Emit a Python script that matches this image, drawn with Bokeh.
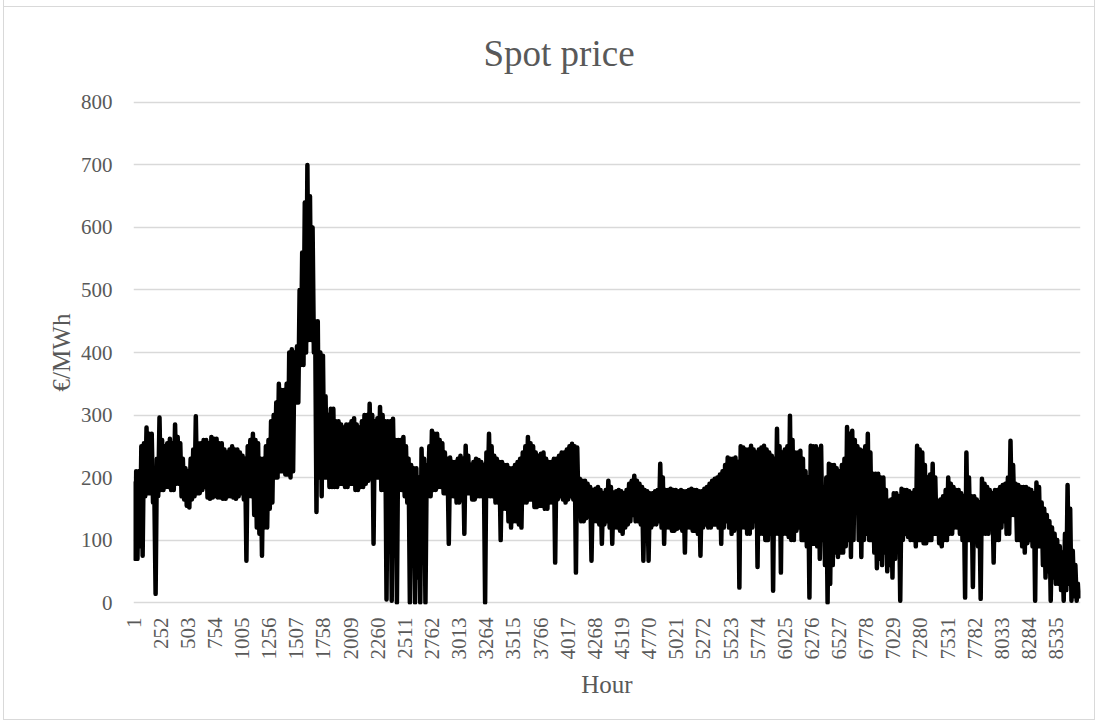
import math
from bokeh.plotting import figure
from bokeh.models import FixedTicker, Range1d, ColumnDataSource
from bokeh.embed import file_html
from bokeh.resources import INLINE

title_text = "Spot price"
x_title = "Hour"
y_title = "€/MWh"

tick_hours = [1, 252, 503, 754, 1005, 1256, 1507, 1758, 2009, 2260, 2511, 2762,
              3013, 3264, 3515, 3766, 4017, 4268, 4519, 4770, 5021, 5272, 5523,
              5774, 6025, 6276, 6527, 6778, 7029, 7280, 7531, 7782, 8033, 8284, 8535]
y_ticks = [0, 100, 200, 300, 400, 500, 600, 700, 800]

# per day (365 days): the day's high reading and the day's low reading,
# estimated from the chart (high near hour 1 of the day, low near hour 13)
daily_high = [
    190, 210, 210, 250, 255, 280, 270, 270, 180, 230,
    296, 260, 250, 255, 262, 255, 285, 265, 255, 230,
    215, 210, 230, 245, 298, 255, 255, 260, 260, 255,
    265, 262, 262, 255, 255, 245, 240, 245, 250, 245,
    245, 240, 235, 230, 250, 260, 270, 260, 255, 230,
    230, 250, 260, 290, 300, 320, 350, 340, 340, 350,
    400, 405, 400, 410, 500, 560, 640, 700, 650, 600,
    450, 450, 400, 395, 330, 300, 310, 310, 290, 290,
    285, 280, 285, 285, 290, 295, 285, 280, 290, 300,
    300, 318, 300, 290, 295, 313, 300, 290, 290, 290,
    294, 260, 260, 260, 265, 250, 230, 220, 215, 215,
    200, 246, 230, 220, 250, 275, 270, 270, 260, 255,
    240, 230, 232, 225, 225, 230, 235, 230, 251, 235,
    220, 225, 230, 228, 225, 220, 240, 270, 250, 235,
    230, 225, 225, 220, 220, 215, 215, 220, 225, 230,
    240, 250, 265, 255, 250, 240, 235, 238, 240, 230,
    225, 225, 230, 230, 235, 240, 240, 245, 250, 254,
    250, 248, 198, 195, 195, 190, 185, 180, 182, 185,
    180, 175, 180, 195, 185, 176, 178, 180, 178, 175,
    180, 190, 195, 203, 195, 190, 185, 180, 178, 175,
    175, 178, 180, 222, 200, 180, 180, 182, 180, 180,
    178, 180, 178, 178, 180, 182, 180, 180, 178, 178,
    182, 185, 190, 195, 198, 200, 205, 210, 220, 232,
    230, 230, 232, 225, 250, 248, 245, 245, 251, 245,
    240, 245, 248, 251, 245, 240, 235, 230, 278, 250,
    240, 245, 250, 299, 260, 240, 240, 243, 230, 210,
    200, 251, 250, 250, 245, 251, 184, 200, 222, 220,
    220, 215, 210, 220, 230, 281, 270, 275, 260, 250,
    245, 243, 250, 270, 240, 206, 206, 206, 200, 200,
    180, 163, 165, 175, 175, 170, 182, 180, 180, 178,
    175, 180, 251, 245, 240, 220, 200, 205, 222, 200,
    163, 165, 170, 180, 200, 190, 185, 180, 180, 175,
    170, 240, 200, 170, 170, 165, 160, 198, 190, 185,
    180, 175, 180, 180, 185, 188, 190, 200, 259, 220,
    190, 188, 185, 185, 185, 182, 180, 175, 192, 185,
    160, 150, 140, 130, 120, 110, 100, 90, 80, 110,
    188, 150, 83, 60, 30,
]
daily_low = [
    70, 70, 90, 75, 170, 175, 175, 160, 14, 170,
    180, 180, 185, 185, 180, 180, 190, 190, 170, 165,
    155, 152, 165, 170, 175, 175, 180, 185, 168, 166,
    168, 170, 168, 168, 166, 166, 170, 170, 168, 166,
    170, 175, 165, 67, 170, 170, 140, 120, 110, 75,
    120, 120, 150, 160, 200, 200, 210, 210, 205, 205,
    200, 210, 320, 320, 380, 380, 400, 420, 420, 400,
    145, 200, 170, 200, 200, 185, 185, 185, 185, 190,
    190, 185, 185, 190, 190, 180, 180, 185, 185, 190,
    195, 200, 94, 200, 200, 180, 180, 5, 180, 3,
    170, 0, 180, 180, 170, 160, 0, 150, 0, 40,
    0, 150, 0, 170, 170, 180, 180, 185, 185, 175,
    175, 94, 170, 170, 160, 160, 165, 110, 175, 175,
    165, 165, 170, 170, 170, 0, 170, 170, 170, 160,
    160, 100, 150, 150, 130, 120, 130, 130, 125, 120,
    160, 160, 165, 165, 153, 153, 155, 155, 150, 150,
    160, 160, 64, 165, 170, 165, 160, 165, 170, 165,
    48, 150, 130, 130, 135, 140, 67, 130, 130, 125,
    94, 125, 130, 120, 94, 120, 120, 115, 110, 120,
    125, 130, 140, 130, 130, 125, 67, 120, 67, 120,
    125, 125, 130, 120, 94, 120, 120, 115, 115, 118,
    120, 115, 80, 120, 120, 115, 115, 110, 75, 120,
    125, 120, 120, 125, 125, 120, 94, 120, 130, 120,
    110, 115, 120, 24, 120, 120, 110, 110, 120, 130,
    57, 110, 110, 100, 100, 110, 19, 110, 110, 48,
    110, 110, 105, 100, 100, 115, 120, 100, 100, 90,
    8, 94, 94, 90, 70, 100, 60, 0, 30, 60,
    80, 73, 80, 80, 90, 100, 73, 100, 150, 100,
    73, 100, 110, 100, 100, 80, 55, 70, 60, 80,
    50, 60, 40, 70, 90, 3, 100, 110, 105, 100,
    100, 90, 100, 100, 95, 95, 100, 100, 110, 110,
    95, 90, 100, 100, 110, 110, 120, 120, 110, 100,
    8, 100, 100, 25, 100, 90, 6, 110, 110, 110,
    120, 64, 100, 100, 120, 130, 110, 110, 140, 140,
    100, 100, 90, 80, 95, 100, 90, 3, 90, 90,
    60, 40, 50, 3, 40, 30, 30, 20, 3, 20,
    30, 3, 10, 3, 10,
]

# hourly series points: each day contributes its high then its low
hour = []
price = []
for d, (hi, lo) in enumerate(zip(daily_high, daily_low)):
    hour += [24 * d + 1, 24 * d + 13]
    price += [hi, lo]

FONT = "Liberation Serif"
GREY = "#595959"

p = figure(width=1092, height=720, output_backend="svg", toolbar_location=None,
           x_range=Range1d(0.5, 8760.5), y_range=Range1d(-3, 803),
           min_border_left=129, min_border_right=16, min_border_top=100,
           min_border_bottom=116, title=title_text)

p.title.text_font = FONT
p.title.text_font_size = "37px"
p.title.text_font_style = "normal"
p.title.text_color = GREY
p.title.align = "left"
p.title.offset = 350
p.title.standoff = 54

p.outline_line_color = None
p.background_fill_color = "white"
p.border_fill_color = None

p.xgrid.visible = False
p.ygrid.ticker = FixedTicker(ticks=y_ticks)
p.ygrid.grid_line_color = "#d9d9d9"
p.ygrid.grid_line_width = 1.4

src = ColumnDataSource(data=dict(hour=hour, price=price))
p.line(x="hour", y="price", source=src, line_color="black", line_width=4.5,
       line_join="round", line_cap="round")

xa = p.xaxis[0]
xa.ticker = FixedTicker(ticks=tick_hours)
xa.major_label_overrides = {h: str(h) for h in tick_hours}
xa.major_label_orientation = math.pi / 2
xa.major_label_text_font = FONT
xa.major_label_text_font_size = "21px"
xa.major_label_text_color = GREY
xa.axis_line_color = None
xa.major_tick_line_color = None
xa.minor_tick_line_color = None
xa.major_tick_out = 0
xa.major_tick_in = 0
xa.major_label_standoff = 13
xa.axis_label = x_title
xa.axis_label_text_font = FONT
xa.axis_label_text_font_size = "25px"
xa.axis_label_text_font_style = "normal"
xa.axis_label_text_color = GREY
xa.axis_label_standoff = 8

ya = p.yaxis[0]
ya.ticker = FixedTicker(ticks=y_ticks)
ya.major_label_text_font = FONT
ya.major_label_text_font_size = "21px"
ya.major_label_text_color = GREY
ya.axis_line_color = None
ya.major_tick_line_color = None
ya.minor_tick_line_color = None
ya.major_tick_out = 0
ya.major_tick_in = 0
ya.major_label_standoff = 21
ya.axis_label = y_title
ya.axis_label_text_font = FONT
ya.axis_label_text_font_size = "25px"
ya.axis_label_text_font_style = "normal"
ya.axis_label_text_color = GREY
ya.axis_label_standoff = 3

# outer chart border: left/right/bottom edges, top edge drawn 6px down
p.styles = {
    "border-left": "1px solid #d9d9d9",
    "border-right": "1px solid #d9d9d9",
    "border-bottom": "1px solid #d9d9d9",
    "margin-left": "3px",
    "background": "linear-gradient(#d9d9d9, #d9d9d9) 0 6px / 100% 1px no-repeat, #ffffff",
}

open("out.html", "w").write(file_html(p, INLINE))
